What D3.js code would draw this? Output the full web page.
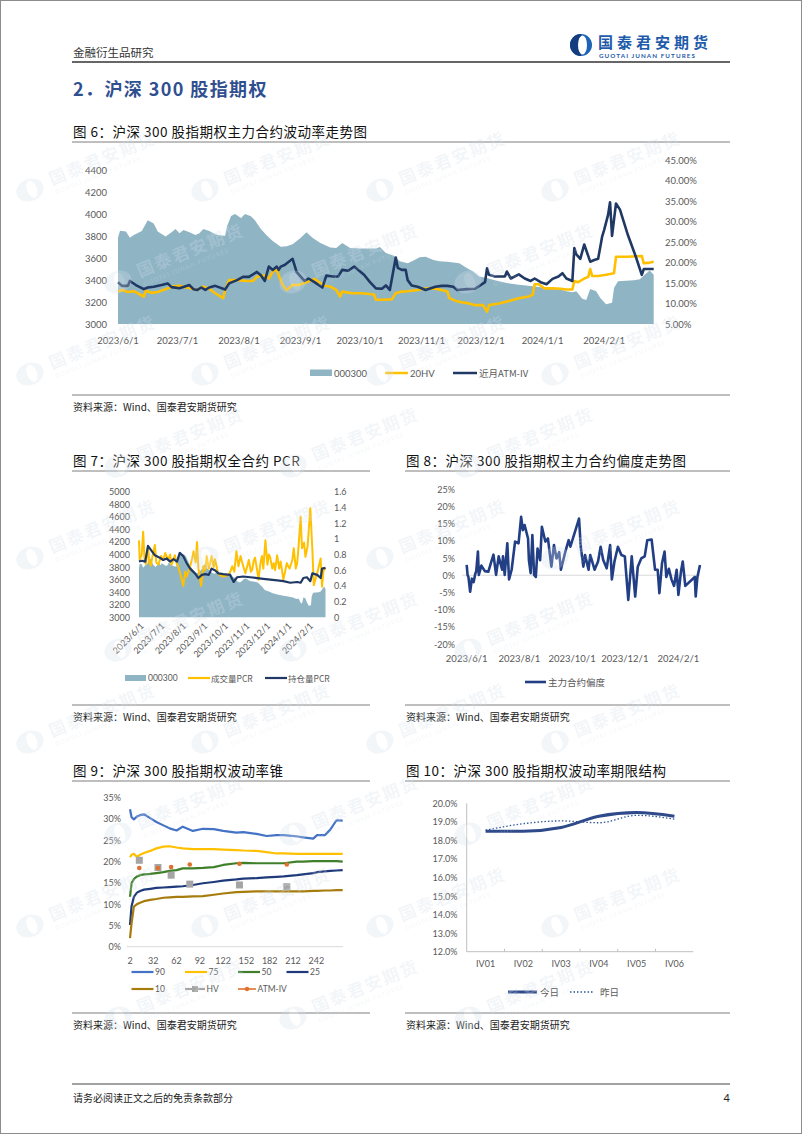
<!DOCTYPE html>
<html lang="zh-CN">
<head>
<meta charset="utf-8">
<title>沪深300股指期权</title>
<script src="https://cdn.jsdelivr.net/npm/d3@7/dist/d3.min.js"></script>
<style>
  html, body { margin: 0; padding: 0; background: #fff; }
  svg { display: block; }
</style>
</head>
<body>
<svg id="page" width="802" height="1134"></svg>
<script>
// ---------- 数据 (读自原图, 日期为 月/日, 6-12月为2023年, 1-2月为2024年) ----------
// 图6 / 图7 共用: 沪深300指数
const hs300 = [["6/1",3790],["6/2",3853],["6/5",3845],["6/7",3790],["6/9",3815],["6/13",3850],["6/16",3950],["6/19",3920],["6/21",3845],["6/25",3800],
  ["6/28",3840],["6/30",3870],["7/2",3830],["7/4",3860],["7/7",3840],["7/10",3815],["7/12",3830],["7/14",3870],["7/17",3850],["7/20",3820],
  ["7/23",3810],["7/25",3808],["7/26",3897],["7/28",3988],["7/30",4006],["8/2",3970],["8/4",4005],["8/7",3985],["8/9",3950],["8/12",3870],
  ["8/15",3810],["8/18",3760],["8/22",3707],["8/25",3710],["8/28",3730],["9/1",3787],["9/4",3840],["9/7",3790],["9/11",3740],["9/16",3700],
  ["9/19",3695],["9/22",3740],["9/26",3695],["10/1",3690],["10/9",3690],["10/11",3705],["10/14",3650],["10/18",3625],["10/21",3575],["10/25",3555],
  ["10/28",3580],["10/31",3610],["11/3",3616],["11/7",3585],["11/10",3575],["11/14",3570],["11/20",3555],["11/24",3510],["11/27",3480],["11/30",3435],
  ["12/4",3420],["12/7",3405],["12/10",3390],["12/14",3375],["12/20",3360],["12/27",3345],["1/3",3330],["1/10",3315],["1/13",3300],["1/16",3290],
  ["1/18",3300],["1/21",3230],["1/23",3220],["1/25",3320],["1/28",3300],["1/30",3240],["2/2",3180],["2/5",3195],["2/6",3330],["2/8",3390],
  ["2/16",3400],["2/19",3410],["2/22",3460],["2/24",3490],["2/26",3450]];

// 图6: 20日历史波动率 (%)
const hv20 = [["6/1",12.9],["6/3",13.3],["6/6",12.8],["6/9",13.0],["6/12",12.2],["6/14",11.7],["6/15",13.1],["6/18",12.6],["6/21",12.8],["6/25",13.5],
  ["6/29",14.2],["7/2",14.3],["7/7",13.8],["7/11",13.3],["7/14",14.1],["7/17",13.6],["7/20",12.5],["7/24",11.3],["7/25",13.3],["7/27",15.7],
  ["7/31",15.7],["8/5",15.5],["8/8",15.5],["8/10",16.5],["8/14",16.9],["8/16",16.1],["8/18",17.8],["8/20",18.3],["8/21",16.9],["8/23",14.5],
  ["8/25",13.3],["8/28",14.5],["8/31",14.5],["9/4",15.2],["9/8",16.0],["9/10",15.3],["9/13",14.4],["9/16",14.1],["9/19",13.3],["9/21",11.7],
  ["9/22",12.9],["9/27",12.5],["10/2",12.5],["10/8",12.2],["10/9",10.9],["10/12",10.9],["10/17",11.0],["10/19",12.5],["10/22",12.9],["10/25",13.0],
  ["10/30",13.3],["11/4",13.7],["11/8",13.6],["11/11",13.3],["11/14",12.9],["11/15",11.3],["11/18",10.7],["11/21",10.3],["11/24",10.1],["11/28",9.6],
  ["12/2",9.6],["12/4",8.0],["12/5",9.6],["12/10",10.0],["12/15",10.6],["12/20",11.3],["12/25",11.7],["12/27",12.1],["12/28",14.7],["12/30",14.7],
  ["1/2",13.7],["1/6",13.7],["1/10",13.6],["1/13",13.4],["1/16",13.4],["1/17",15.5],["1/19",15.2],["1/22",16.1],["1/24",16.5],["1/25",18.4],
  ["1/26",16.7],["1/29",16.7],["2/2",17.0],["2/6",17.4],["2/7",21.4],["2/13",21.4],["2/20",21.6],["2/21",19.8],["2/23",19.9],["2/26",20.2]];

// 图6: 近月平值隐含波动率 (%)
const atmIv = [["6/1",15.2],["6/3",14.3],["6/6",14.3],["6/7",15.5],["6/10",14.5],["6/14",13.5],["6/16",13.9],["6/19",14.1],["6/23",14.5],["6/26",14.9],
  ["6/28",14.0],["7/2",13.7],["7/7",14.5],["7/9",13.5],["7/11",13.3],["7/13",13.9],["7/15",13.3],["7/17",13.9],["7/20",14.3],["7/25",13.4],
  ["7/27",14.9],["7/31",15.7],["8/3",16.5],["8/6",16.5],["8/10",17.7],["8/12",16.9],["8/14",15.5],["8/16",19.0],["8/18",18.2],["8/20",19.0],
  ["8/21",18.2],["8/22",19.0],["8/24",19.4],["8/28",20.9],["8/30",17.7],["9/3",15.5],["9/5",16.1],["9/8",15.2],["9/12",13.9],["9/14",16.8],
  ["9/17",16.6],["9/20",16.6],["9/22",18.2],["9/25",18.0],["9/28",19.0],["10/3",17.0],["10/6",15.2],["10/9",13.7],["10/12",13.6],["10/14",14.4],
  ["10/16",13.3],["10/19",21.2],["10/20",18.7],["10/22",18.2],["10/24",18.2],["10/25",15.7],["10/27",14.4],["10/30",14.1],["11/3",13.3],["11/8",14.1],
  ["11/11",14.3],["11/14",14.3],["11/17",14.1],["11/19",13.3],["11/24",13.5],["11/28",13.6],["12/3",15.2],["12/4",18.6],["12/5",17.0],["12/8",16.6],
  ["12/13",16.6],["12/14",17.8],["12/16",16.1],["12/20",17.1],["12/23",16.1],["12/26",15.5],["12/28",16.1],["12/31",15.2],["1/3",14.7],["1/6",16.0],
  ["1/9",16.6],["1/11",17.4],["1/13",16.1],["1/16",15.5],["1/17",23.5],["1/18",22.0],["1/20",20.9],["1/22",24.4],["1/25",20.2],["1/27",20.6],
  ["1/29",20.9],["1/31",26.3],["2/1",27.9],["2/3",31.6],["2/4",34.7],["2/5",26.5],["2/7",34.4],["2/9",32.9],["2/13",26.7],["2/17",21.4],
  ["2/20",17.0],["2/21",18.4],["2/26",18.4]];

// 图7: 成交量PCR / 持仓量PCR
const volPcr = [["6/1",0.98],["6/2",0.73],["6/5",0.80],["6/7",1.09],["6/9",0.74],["6/11",0.68],["6/14",0.89],["6/16",0.70],["6/18",0.66],["6/21",0.80],
  ["6/24",0.92],["6/26",0.70],["6/29",0.67],["7/3",0.78],["7/6",0.73],["7/9",0.82],["7/13",0.73],["7/16",0.80],["7/18",0.67],["7/23",0.79],
  ["7/25",0.70],["7/28",0.64],["8/2",0.48],["8/4",0.40],["8/7",0.58],["8/9",0.52],["8/14",0.65],["8/17",0.75],["8/19",0.84],["8/22",0.70],
  ["8/24",0.96],["8/26",0.62],["8/28",0.52],["8/30",0.40],["9/2",0.65],["9/5",0.60],["9/7",0.78],["9/10",0.62],["9/12",0.69],["9/14",0.78],
  ["9/17",0.64],["9/19",0.74],["9/22",0.62],["9/24",0.55],["10/1",0.52],["10/9",0.54],["10/12",0.60],["10/14",0.65],["10/17",0.58],["10/20",0.84],
  ["10/23",0.65],["10/26",0.78],["10/28",0.71],["11/2",0.56],["11/5",0.66],["11/7",0.73],["11/10",0.58],["11/12",0.61],["11/14",0.72],["11/16",0.76],
  ["11/19",0.60],["11/21",0.48],["11/24",0.70],["11/26",0.78],["11/28",0.62],["12/1",0.98],["12/4",0.67],["12/6",0.80],["12/8",0.76],["12/11",0.62],
  ["12/13",0.69],["12/15",0.60],["12/18",0.79],["12/21",0.62],["12/23",0.71],["12/25",0.60],["12/27",0.48],["1/1",0.69],["1/5",0.62],["1/9",0.73],
  ["1/11",0.88],["1/14",0.62],["1/16",0.69],["1/18",0.90],["1/21",1.28],["1/23",0.88],["1/26",0.95],["1/28",0.77],["1/31",0.90],["2/2",1.14],
  ["2/4",1.39],["2/7",0.86],["2/9",0.41],["2/14",0.56],["2/19",0.75],["2/21",0.39],["2/23",0.59],["2/26",0.63]];
const oiPcr = [["6/1",0.71],["6/5",0.72],["6/10",0.71],["6/14",0.91],["6/19",0.85],["6/24",0.79],["7/1",0.76],["7/6",0.73],["7/11",0.75],["7/16",0.71],
  ["7/21",0.74],["7/26",0.71],["7/30",0.82],["8/4",0.78],["8/9",0.69],["8/14",0.62],["8/21",0.56],["8/26",0.50],["8/31",0.54],["9/5",0.55],
  ["9/10",0.54],["9/14",0.62],["9/19",0.60],["9/24",0.56],["10/1",0.55],["10/11",0.54],["10/16",0.45],["10/21",0.51],["10/30",0.52],["11/9",0.51],
  ["11/19",0.50],["11/28",0.49],["12/8",0.48],["12/18",0.47],["12/27",0.46],["1/6",0.44],["1/16",0.45],["1/21",0.44],["1/25",0.50],["1/30",0.51],
  ["2/4",0.46],["2/7",0.56],["2/14",0.54],["2/19",0.50],["2/21",0.62],["2/26",0.63]];

// 图8: 主力合约偏度 (%)
const skew = [["6/1",3.0],["6/2",0.1],["6/3",-0.5],["6/5",-4.8],["6/7",-1.0],["6/9",-2.0],["6/11",0.5],["6/12",1.1],["6/14",6.9],["6/15",0.1],
  ["6/18",2.8],["6/22",1.2],["6/26",1.0],["6/30",4.4],["7/2",6.0],["7/5",0.1],["7/8",5.5],["7/12",1.6],["7/13",5.5],["7/15",0.1],
  ["7/18",9.3],["7/20",-1.2],["7/23",1.6],["7/27",9.8],["7/31",9.3],["8/3",17.0],["8/5",13.1],["8/7",14.6],["8/11",10.7],["8/12",4.4],
  ["8/14",0.6],["8/16",11.7],["8/18",0.1],["8/20",-0.5],["8/22",7.8],["8/25",4.4],["8/27",14.1],["8/31",9.8],["9/3",10.7],["9/7",2.5],
  ["9/10",8.8],["9/13",4.9],["9/16",6.7],["9/18",1.6],["9/23",6.7],["9/27",10.2],["9/29",8.3],["10/9",16.5],["10/11",8.3],["10/14",2.5],
  ["10/16",5.9],["10/20",1.6],["10/22",5.9],["10/27",1.6],["10/31",4.0],["11/3",8.3],["11/6",4.4],["11/10",2.0],["11/14",8.8],["11/16",-1.2],
  ["11/19",4.0],["11/23",8.3],["11/27",5.9],["12/1",5.5],["12/5",-7.2],["12/9",5.5],["12/13",-6.2],["12/16",2.5],["12/20",4.9],["12/24",5.5],
  ["12/27",10.2],["1/1",10.4],["1/5",1.6],["1/8",1.6],["1/10",-5.2],["1/13",3.4],["1/16",6.9],["1/18",-0.5],["1/21",1.9],["1/24",-1.2],
  ["1/27",-3.1],["1/30",1.6],["2/1",-5.7],["2/4",1.1],["2/6",4.0],["2/9",-3.1],["2/20",-0.5],["2/21",-6.2],["2/23",-0.5],["2/26",3.0]];

// 图9: 波动率锥 (剩余天数 / 分位数, %)
const coneDays = [2,4,7,11,15,20,28,36,45,53,62,70,83,96,110,122,139,148,165,178,191,200,217,225,238,243,253,260,268,276];
const cone90 = [32.3,30.4,29.9,30.6,30.9,31.1,30.2,29.3,28.5,27.8,27.3,28.2,27.2,27.7,27.6,27.2,26.8,26.9,26.5,26.0,26.2,26.2,25.9,25.7,25.4,26.2,26.2,27.5,29.7,29.6];
const cone75 = [21.0,21.6,21.8,21.1,21.6,22.0,22.5,23.1,23.5,23.6,23.3,23.1,22.9,22.9,22.9,22.8,22.7,22.6,22.5,22.2,21.9,21.9,21.8,21.8,21.8,21.8,21.8,21.8,21.8,21.8];
const cone50 = [11.7,14.9,15.9,16.5,16.8,17.0,17.1,17.3,17.5,17.8,18.0,18.4,18.4,18.5,18.7,19.2,19.6,19.7,19.6,19.6,19.6,19.6,20.0,20.0,20.1,20.1,20.1,20.1,20.1,20.0];
const cone25 = [5.1,9.5,11.7,12.7,13.1,13.4,13.6,13.8,13.9,14.0,14.1,14.2,14.5,14.9,15.2,15.5,15.8,16.0,16.1,16.3,16.4,16.5,16.8,17.0,17.3,17.5,17.7,17.8,17.9,18.0];
const cone10 = [2.0,5.5,9.4,10.0,10.3,10.7,11.0,11.2,11.5,11.6,11.7,11.7,11.8,11.9,12.2,12.5,12.8,12.9,13.0,13.0,13.0,13.0,13.0,13.0,13.1,13.1,13.2,13.2,13.3,13.3];
const expiryDays = [14,38,55,79,143,204];
const coneHv = [20.3,18.6,16.8,14.7,14.5,14.1];

// 图10: 期限结构 (%)
const termLabels = ["IV01","IV02","IV03","IV04","IV05","IV06"];
const termToday = [18.5,18.5,18.7,19.3,19.5,19.3];
const termYesterday = [18.55,18.9,19.05,18.95,19.35,19.15];

// 坐标轴刻度
const months6 = ["2023/6/1","2023/7/1","2023/8/1","2023/9/1","2023/10/1","2023/11/1","2023/12/1","2024/1/1","2024/2/1"];
const months8 = ["2023/6/1","2023/8/1","2023/10/1","2023/12/1","2024/2/1"];
const ticks6L = [3000,3200,3400,3600,3800,4000,4200,4400];
const ticks6R = [5,10,15,20,25,30,35,40,45];
const ticks7L = [3000,3200,3400,3600,3800,4000,4200,4400,4600,4800,5000];
const ticks7R = [0,0.2,0.4,0.6,0.8,1,1.2,1.4,1.6];
const ticks8 = [-20,-15,-10,-5,0,5,10,15,20,25];
const ticks9Y = [0,5,10,15,20,25,30,35];
const ticks9X = [2,32,62,92,122,152,182,212,242];
const ticks10 = [12,13,14,15,16,17,18,19,20];

// ---------- 工具 ----------
const NUM = "Lato, 'Noto Sans', sans-serif";
const CJK = "'Noto Sans CJK SC', 'Noto Sans', sans-serif";
const GREY = "#595959";
const AREA = "#8FB5C5", GOLD = "#FFC000", NAVY = "#1F3864";

const parseFull = d3.timeParse("%Y/%m/%d");
function toDate(s) {
  const [m, d] = s.split("/").map(Number);
  return new Date(m >= 6 ? 2023 : 2024, m - 1, d);
}
const series = arr => arr.map(([s, v]) => ({ date: toDate(s), v }));
const START = new Date(2023, 5, 1), END = new Date(2024, 1, 26);

const svg = d3.select("#page");

function label(g, x, y, s, o = {}) {
  return g.append("text")
    .attr("x", x).attr("y", y)
    .attr("font-family", o.family || NUM)
    .attr("font-size", o.size || 9.5)
    .attr("fill", o.fill || GREY)
    .attr("text-anchor", o.anchor || "start")
    .attr("dominant-baseline", "central")
    .attr("font-weight", o.weight || null)
    .attr("letter-spacing", o.ls || null)
    .text(s);
}
function rule(g, x1, x2, y, color = "#7f7f7f", w = 1) {
  g.append("line").attr("x1", x1).attr("x2", x2).attr("y1", y).attr("y2", y)
    .attr("stroke", color).attr("stroke-width", w);
}
function legLine(g, x1, x2, y, color, w = 2.5, dash = null) {
  g.append("line").attr("x1", x1).attr("x2", x2).attr("y1", y).attr("y2", y)
    .attr("stroke", color).attr("stroke-width", w).attr("stroke-dasharray", dash);
}
function figure(x1, x2, titleY, title, srcY) {
  const g = svg.append("g");
  label(g, x1 + 1, titleY, title, { family: CJK, size: 13.5, fill: "#111", ls: 0.5 });
  rule(g, x1, x2, titleY + 11);
  rule(g, x1, x2, srcY - 11);
  label(g, x1 + 1, srcY, "资料来源：Wind、国泰君安期货研究", { family: CJK, size: 10, fill: "#222" });
  return g;
}

// ---------- 页面框架 ----------
svg.append("rect").attr("x", 0.5).attr("y", 0.5).attr("width", 801).attr("height", 1133)
  .attr("fill", "#fff").attr("stroke", "#8c8c8c");

// ---------- 水印 (放在底层, 图形之上另有一层淡色) ----------
function watermarks(opacity) {
  const wm = svg.append("g").attr("opacity", opacity).attr("pointer-events", "none");
  for (let r = 0; r < 10; r++) {
    for (let c = 0; c < 5; c++) {
      const wx = 30 + c * 175 + (r % 2) * 88, wy = 190 + r * 92;
      if (wx > 640 || wy > 1060) continue;
      const m = wm.append("g").attr("transform", `translate(${wx},${wy}) rotate(-22)`);
      m.append("ellipse").attr("cx", 0).attr("cy", 0).attr("rx", 14).attr("ry", 11).attr("fill", "#d3dde8");
      m.append("ellipse").attr("cx", 2).attr("cy", 0).attr("rx", 5).attr("ry", 9).attr("fill", "#fff");
      m.append("text").attr("x", 22).attr("y", 4).attr("font-family", CJK).attr("font-size", 17)
        .attr("font-weight", 700).attr("fill", "#d3dde8").attr("letter-spacing", 2).text("国泰君安期货");
      m.append("text").attr("x", 23).attr("y", 14).attr("font-family", NUM).attr("font-size", 6)
        .attr("fill", "#d3dde8").attr("letter-spacing", 1).text("GUOTAI JUNAN FUTURES");
    }
  }
}

const head = svg.append("g");
label(head, 73, 52, "金融衍生品研究", { family: CJK, size: 11.5, fill: "#333" });
rule(head, 72, 730, 62, "#333", 1.5);
head.append("circle").attr("cx", 581).attr("cy", 45).attr("r", 11).attr("fill", "#1E63B5");
head.append("path").attr("d", "M581,34 A11,11 0 0,0 581,56 Z").attr("fill", "#143C7E");
head.append("ellipse").attr("cx", 582.5).attr("cy", 45).attr("rx", 4.5).attr("ry", 9.5).attr("fill", "#fff");
label(head, 598, 41.5, "国泰君安期货", { family: CJK, size: 15, fill: "#1E5BAA", weight: 700, ls: 4 });
label(head, 599, 55.5, "GUOTAI JUNAN FUTURES", { family: NUM, size: 6.3, fill: "#1E5BAA", weight: 700, ls: 1.05 });
label(head, 73, 88, "2．沪深 300 股指期权", { family: CJK, size: 18, fill: "#2F4F8F", weight: 700, ls: 1.4 });

const foot = svg.append("g");
rule(foot, 72, 730, 1084, "#444", 1.2);
label(foot, 73, 1097, "请务必阅读正文之后的免责条款部分", { family: CJK, size: 10, fill: "#222" });
label(foot, 730, 1097, "4", { family: NUM, size: 11, fill: "#222", anchor: "end" });

// ---------- 图6 ----------
{
  const g = figure(72, 730, 131, "图 6：沪深 300 股指期权主力合约波动率走势图", 406);
  const x = d3.scaleTime().domain([START, END]).range([118, 653.7]);
  const yL = d3.scaleLinear().domain([3000, 4500]).range([324, 160]);
  const yR = d3.scaleLinear().domain([5, 45]).range([324, 160]);

  g.append("path").datum(series(hs300)).attr("fill", AREA)
    .attr("d", d3.area().x(d => x(d.date)).y0(yL(3000)).y1(d => yL(d.v)));
  g.append("path").datum(series(hv20)).attr("fill", "none").attr("stroke", GOLD).attr("stroke-width", 2.6)
    .attr("stroke-linejoin", "round").attr("d", d3.line().x(d => x(d.date)).y(d => yR(d.v)));
  g.append("path").datum(series(atmIv)).attr("fill", "none").attr("stroke", NAVY).attr("stroke-width", 2.6)
    .attr("stroke-linejoin", "round").attr("d", d3.line().x(d => x(d.date)).y(d => yR(d.v)));

  ticks6L.forEach(v => label(g, 107, yL(v), v, { anchor: "end" }));
  ticks6R.forEach(v => label(g, 665, yR(v), v.toFixed(2) + "%"));
  months6.forEach(s => label(g, x(parseFull(s)), 340, s, { anchor: "middle" }));

  g.append("rect").attr("x", 310).attr("y", 369.5).attr("width", 22).attr("height", 6.5).attr("fill", AREA);
  label(g, 334, 373, "000300");
  legLine(g, 385, 408, 373, GOLD);
  label(g, 410, 373, "20HV");
  legLine(g, 453, 477, 373, NAVY);
  label(g, 479, 373, "近月ATM-IV", { family: CJK, size: 9.5 });
}

// ---------- 图7 ----------
{
  const g = figure(72, 370, 460, "图 7：沪深 300 股指期权全合约 PCR", 716);
  const x = d3.scaleTime().domain([START, END]).range([139, 325.5]);
  const yL = d3.scaleLinear().domain([3000, 5000]).range([617.3, 491.7]);
  const yR = d3.scaleLinear().domain([0, 1.6]).range([617.3, 491.7]);

  g.append("path").datum(series(hs300)).attr("fill", AREA)
    .attr("d", d3.area().x(d => x(d.date)).y0(yL(3000)).y1(d => yL(d.v)));
  g.append("path").datum(series(volPcr)).attr("fill", "none").attr("stroke", GOLD).attr("stroke-width", 2)
    .attr("stroke-linejoin", "round").attr("d", d3.line().x(d => x(d.date)).y(d => yR(d.v)));
  g.append("path").datum(series(oiPcr)).attr("fill", "none").attr("stroke", NAVY).attr("stroke-width", 2.2)
    .attr("stroke-linejoin", "round").attr("d", d3.line().x(d => x(d.date)).y(d => yR(d.v)));

  ticks7L.forEach(v => label(g, 130, yL(v), v, { anchor: "end", size: 9 }));
  ticks7R.forEach(v => label(g, 334, yR(v), v, { size: 9 }));
  months6.forEach(s => {
    g.append("text").attr("transform", `translate(${x(parseFull(s)) + 3},${624}) rotate(-45)`)
      .attr("text-anchor", "end").attr("dominant-baseline", "central")
      .attr("font-family", NUM).attr("font-size", 9).attr("fill", GREY).text(s);
  });

  g.append("rect").attr("x", 125).attr("y", 675).attr("width", 21).attr("height", 6).attr("fill", AREA);
  label(g, 148, 678, "000300", { size: 8.5 });
  legLine(g, 188, 210, 678, GOLD, 2.2);
  label(g, 211, 678, "成交量PCR", { family: CJK, size: 8.5 });
  legLine(g, 265, 287, 678, NAVY, 2.2);
  label(g, 288, 678, "持仓量PCR", { family: CJK, size: 8.5 });
}

// ---------- 图8 ----------
{
  const g = figure(405, 730, 460, "图 8：沪深 300 股指期权主力合约偏度走势图", 716);
  const x = d3.scaleTime().domain([START, END]).range([466.7, 700]);
  const y = d3.scaleLinear().domain([-20, 25]).range([644, 489.3]);

  rule(g, 462, 700, y(0), "#d9d9d9", 1);
  g.append("path").datum(series(skew)).attr("fill", "none").attr("stroke", "#223F85").attr("stroke-width", 2.6)
    .attr("stroke-linejoin", "round").attr("d", d3.line().x(d => x(d.date)).y(d => y(d.v)));

  ticks8.forEach(v => label(g, 455, y(v), v + "%", { anchor: "end", size: 9 }));
  months8.forEach(s => label(g, x(parseFull(s)), 658, s, { anchor: "middle", size: 9.5 }));

  legLine(g, 525, 546, 682, "#223F85", 2.6);
  label(g, 548, 682, "主力合约偏度", { family: CJK, size: 9.5 });
}

// ---------- 图9 ----------
{
  const g = figure(72, 370, 770, "图 9：沪深 300 股指期权波动率锥", 1024);
  const x = d3.scaleLinear().domain([2, 276]).range([130, 342.7]);
  const y = d3.scaleLinear().domain([0, 35]).range([946.7, 797.7]);

  rule(g, 126.7, 343, y(0), "#d9d9d9", 1);
  const cones = [
    { name: "90", vals: cone90, color: "#4472C4" },
    { name: "75", vals: cone75, color: GOLD },
    { name: "50", vals: cone50, color: "#3F7F2A" },
    { name: "25", vals: cone25, color: "#1F3A7A" },
    { name: "10", vals: cone10, color: "#A67C0C" }
  ];
  const line = d3.line().x((d, i) => x(coneDays[i])).y(d => y(d));
  cones.forEach(c => g.append("path").datum(c.vals).attr("fill", "none")
    .attr("stroke", c.color).attr("stroke-width", 2.2).attr("stroke-linejoin", "round").attr("d", line));

  g.selectAll(".hv").data(coneHv).join("rect")
    .attr("x", (d, i) => x(expiryDays[i]) - 3.5).attr("y", d => y(d) - 3.5)
    .attr("width", 7).attr("height", 7).attr("fill", "#A5A5A5");
  g.selectAll(".atm").data(termToday).join("circle")
    .attr("cx", (d, i) => x(expiryDays[i])).attr("cy", d => y(d)).attr("r", 2.3).attr("fill", "#E0702C");

  ticks9Y.forEach(v => label(g, 121, y(v), v + "%", { anchor: "end", size: 9 }));
  ticks9X.forEach(v => label(g, x(v), 960, v, { anchor: "middle", size: 9 }));

  const row1 = 972, row2 = 989;
  [[131.5, "90", "#4472C4"], [185, "75", GOLD], [238, "50", "#3F7F2A"], [286.5, "25", "#1F3A7A"]].forEach(([lx, t, c]) => {
    legLine(g, lx, lx + 22, row1, c, 2.2);
    label(g, lx + 23.5, row1, t, { size: 8.5 });
  });
  legLine(g, 131.5, 153.5, row2, "#A67C0C", 2.2);
  label(g, 155, row2, "10", { size: 8.5 });
  legLine(g, 185, 205, row2, "#A5A5A5", 2.2);
  g.append("rect").attr("x", 192).attr("y", row2 - 3).attr("width", 6).attr("height", 6).attr("fill", "#A5A5A5");
  label(g, 206.5, row2, "HV", { size: 8.5 });
  legLine(g, 238, 256, row2, "#E0702C", 1.6);
  g.append("circle").attr("cx", 247).attr("cy", row2).attr("r", 2.2).attr("fill", "#E0702C");
  label(g, 257.5, row2, "ATM-IV", { size: 8.5 });
}

// ---------- 图10 ----------
{
  const g = figure(405, 730, 770, "图 10：沪深 300 股指期权波动率期限结构", 1024);
  const x = d3.scaleBand().domain(termLabels).range([466.7, 693.3]);
  const y = d3.scaleLinear().domain([12, 20]).range([951.7, 803.3]);
  const cx = d => x(d) + x.bandwidth() / 2;

  g.append("line").attr("x1", 466.7).attr("x2", 466.7).attr("y1", y(20)).attr("y2", y(12))
    .attr("stroke", "#bfbfbf");
  rule(g, 466.7, 693.3, y(12), "#bfbfbf", 1);
  termLabels.forEach((t, i) => {
    const bx = x(t) + x.bandwidth();
    if (i < termLabels.length - 1)
      g.append("line").attr("x1", bx).attr("x2", bx).attr("y1", y(12) - 3).attr("y2", y(12)).attr("stroke", "#bfbfbf");
    label(g, cx(t), 963.5, t, { anchor: "middle", size: 9 });
  });
  ticks10.forEach(v => label(g, 457.5, y(v), v.toFixed(1) + "%", { anchor: "end", size: 9 }));

  const line = d3.line().x((d, i) => cx(termLabels[i])).y(d => y(d)).curve(d3.curveMonotoneX);
  g.append("path").datum(termYesterday).attr("fill", "none").attr("stroke", "#2F5597")
    .attr("stroke-width", 1.3).attr("stroke-dasharray", "1.5,2").attr("d", line);
  g.append("path").datum(termToday).attr("fill", "none").attr("stroke", "#2E4A8A")
    .attr("stroke-width", 3).attr("d", line);

  legLine(g, 508, 537, 992, "#2E4A8A", 3);
  label(g, 540, 992, "今日", { family: CJK, size: 9.5 });
  legLine(g, 570, 594, 992, "#2F5597", 1.3, "1.5,2");
  label(g, 600, 992, "昨日", { family: CJK, size: 9.5 });
}

// 水印: 淡色覆盖在图形之上
watermarks(0.28);
</script>
</body>
</html>
